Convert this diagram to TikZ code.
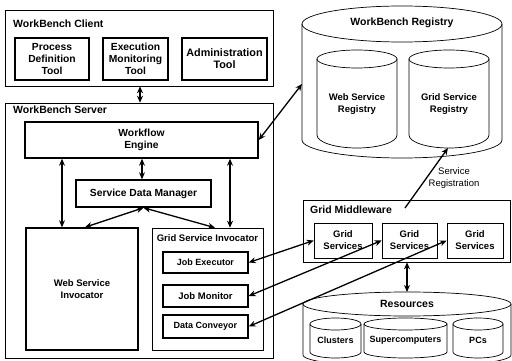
\documentclass[tikz,border=0pt]{standalone}
\usepackage{fontspec}
\setmainfont{Liberation Sans}
\usetikzlibrary{arrows.meta}
\newcommand{\drawcyl}[6]{%
  \pgfmathsetmacro{\cylcx}{(#1+#2)/2}%
  \pgfmathsetmacro{\cylrx}{(#2-#1)/2}%
  \draw[cylline] (\cylcx,#3) ellipse[x radius=\cylrx, y radius=#4];
  \draw[cylline] (#1,#3) -- (#1,#5) arc[start angle=180, end angle=0, x radius=\cylrx, y radius=#6] -- (#2,#3);
}
\begin{document}
\begin{tikzpicture}[x=1pt,y=-1pt,
  thinbox/.style={draw, line width=0.6pt, inner sep=0pt},
  thickbox/.style={draw, line width=1.5pt, inner sep=0pt},
  cylline/.style={line width=0.7pt},
  txt/.style={font=\fontsize{9.5}{12}\selectfont\bfseries, align=center},
  bigtxt/.style={font=\fontsize{10.3}{12}\selectfont\bfseries, align=center},
  smalltxt/.style={font=\fontsize{9}{11}\selectfont\bfseries, align=center},
  lbl/.style={font=\fontsize{10.5}{12}\selectfont\bfseries, inner sep=0pt},
  plain/.style={font=\fontsize{9.5}{11.5}\selectfont, align=center, inner sep=0pt},
  arr/.style={line width=1.3pt, {Stealth[length=7pt,width=6pt]}-{Stealth[length=7pt,width=6pt]}},
  sarr/.style={line width=1.3pt, -{Stealth[length=7pt,width=6pt]}},
]
\useasboundingbox (0,0) rectangle (512,361);
\clip (0,0) rectangle (512,361);
\fill[white] (0,0) rectangle (512,361);

% WorkBench Client
\node[thinbox, minimum width=268pt, minimum height=76pt] (client) at (139,48) {};
\node[lbl, anchor=west] (clientlbl) at (13,24) {WorkBench Client};
\node[thickbox, bigtxt, minimum width=74pt, minimum height=42pt] (pdt) at (52,59) {Process\\Definition\\Tool};
\node[thickbox, bigtxt, minimum width=65pt, minimum height=42pt] (emt) at (135.5,59) {Execution\\Monitoring\\Tool};
\node[thickbox, bigtxt, minimum width=85pt, minimum height=42pt, font=\fontsize{10.8}{12}\selectfont\bfseries] (adt) at (224.5,59) {Administration\\Tool};

% WorkBench Server
\node[thinbox, minimum width=268pt, minimum height=255pt] (server) at (139,230.5) {};
\node[lbl, anchor=west] (serverlbl) at (13,110) {WorkBench Server};
\node[thickbox, bigtxt, minimum width=233pt, minimum height=36pt] (wfe) at (141.5,140) {Workflow\\Engine};
\node[thickbox, bigtxt, minimum width=135pt, minimum height=27pt] (sdm) at (143.5,193.5) {Service Data Manager};
\node[thickbox, txt, minimum width=112pt, minimum height=122pt] (wsi) at (82,289) {Web Service\\Invocator};
\node[thinbox, minimum width=111pt, minimum height=122pt] (gsi) at (207.5,289) {};
\node[txt, inner sep=0pt] (gsilbl) at (207.5,238) {Grid Service Invocator};
\node[thickbox, smalltxt, minimum width=85pt, minimum height=21pt] (je) at (205.5,262.5) {Job Executor};
\node[thickbox, txt, minimum width=85pt, minimum height=22pt] (jm) at (205.5,296) {Job Monitor};
\node[thickbox, smalltxt, minimum width=85pt, minimum height=23pt] (dc) at (205.5,326.5) {Data Conveyor};

% WorkBench Registry
\drawcyl{302}{502}{24}{18}{140}{18}
\node[lbl] (reglbl) at (402,23) {WorkBench Registry};
\drawcyl{317}{397}{59}{9}{135}{13}
\drawcyl{409}{489}{59}{9}{135}{13}
\node[txt] (wsr) at (357,104) {Web Service\\Registry};
\node[txt] (gsr) at (449,104) {Grid Service\\Registry};
\coordinate (regL) at (302,84);
\coordinate (gsrB) at (448,148);

% Grid Middleware
\node[thinbox, minimum width=207pt, minimum height=62pt] (gm) at (406.5,231) {};
\node[lbl, anchor=west] (gmlbl) at (310,210) {Grid Middleware};
\node[thinbox, txt, minimum width=58pt, minimum height=35pt] (gs1) at (343,240.5) {Grid\\Services};
\node[thinbox, txt, minimum width=55pt, minimum height=35pt] (gs2) at (409.5,240.5) {Grid\\Services};
\node[thinbox, txt, minimum width=56pt, minimum height=35pt] (gs3) at (475,240.5) {Grid\\Services};
\coordinate (sreg) at (405,208);
\node[plain] (sreglbl) at (454,178) {Service\\Registration};

% Resources
\drawcyl{303}{511}{304}{12}{355}{12}
\node[lbl] (reslbl) at (407,304) {Resources};
\drawcyl{310}{361}{324}{6}{352}{6}
\drawcyl{364}{447}{324}{6}{352}{6}
\drawcyl{453}{503}{324}{6}{352}{6}
\node[smalltxt] (clu) at (335.5,340) {Clusters};
\node[smalltxt] (sup) at (405.5,340) {Supercomputers};
\node[smalltxt] (pcs) at (478,340) {PCs};
\coordinate (resT) at (407,292);

% guide coordinates
\coordinate (ac) at (140,0);
\coordinate (l1) at (62,0);
\coordinate (l2) at (142,0);
\coordinate (l3) at (230,0);
\coordinate (t1) at (85,0);
\coordinate (t2) at (215,0);
\coordinate (mr) at (407,0);

% connectors
\draw[arr] (client.south -| ac) -- (server.north -| ac);
\draw[arr] (wfe.east) -- (regL);
\draw[arr] (wfe.south -| l1) -- (wsi.north -| l1);
\draw[arr] (wfe.south -| l2) -- (sdm.north -| l2);
\draw[arr] (wfe.south -| l3) -- (gsi.north -| l3);
\draw[arr] (sdm.south) -- (wsi.north -| t1);
\draw[arr] (sdm.south) -- (gsi.north -| t2);
\draw[sarr] (sreg) -- (gsrB);
\draw[arr] (je.east) -- (gs1.west);
\draw[arr] (jm.east) -- (gs2.west);
\draw[arr] (dc.east) -- (gs3.west);
\draw[arr] (gm.south -| mr) -- (resT);
\end{tikzpicture}
\end{document}
